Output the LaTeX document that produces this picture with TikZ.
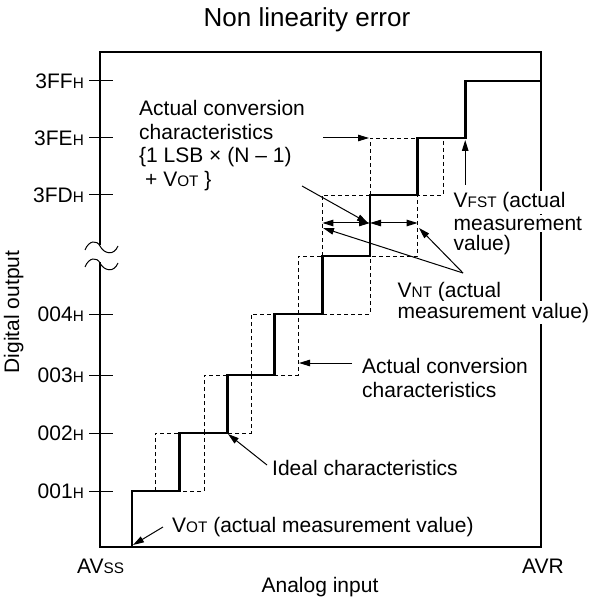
\documentclass[tikz,border=0pt]{standalone}
\usepackage{fontspec}
\setmainfont{Liberation Sans}
\usetikzlibrary{arrows.meta}

\newcommand{\lowcap}[1]{{\fontsize{15.3}{15}\selectfont #1}}

\tikzset{
    lbl/.style={font=\fontsize{21}{22}\selectfont, inner sep=0pt, anchor=base west},
    lblw/.style={lbl, fill=white, inner sep=1.5pt},
    frame/.style={line width=2.3pt},
    ideal/.style={line width=2.7pt},
    actual/.style={line width=0.9pt, dash pattern=on 4pt off 3pt},
    ptr/.style={line width=1pt, -{Triangle[length=11pt,width=6.5pt]}},
    dptr/.style={line width=1pt, {Triangle[length=11pt,width=6.5pt]}-{Triangle[length=11pt,width=6.5pt]}},
}

\begin{document}
\begin{tikzpicture}[x=1pt, y=-1pt]
    \useasboundingbox (0,0) rectangle (588,601);

    % Frame (left side broken)
    \draw[frame] (100,245) -- (100,52) -- (541,52) -- (541,547) -- (100,547) -- (100,262);
    % break marks
    \draw[line width=1pt] (85,250) .. controls (89,240) and (97,240) .. (100,246) .. controls (104,254) and (114,256) .. (118,246);
    \draw[line width=1pt] (85,267) .. controls (89,257) and (97,257) .. (100,263) .. controls (104,271) and (114,273) .. (118,263);

    % Ticks
    \draw[line width=1pt] (89,491) -- (113,491);
    \draw[line width=1pt] (89,433) -- (113,433);
    \draw[line width=1pt] (89,375) -- (113,375);
    \draw[line width=1pt] (89,314) -- (113,314);
    \draw[line width=1pt] (89,195) -- (113,195);
    \draw[line width=1pt] (89,138) -- (113,138);
    \draw[line width=1pt] (89,81) -- (113,81);

    % Tick labels
    \node[lbl, anchor=east] (t1) at (84,491) {001\lowcap{H}};
    \node[lbl, anchor=east] (t2) at (84,433) {002\lowcap{H}};
    \node[lbl, anchor=east] (t3) at (84,375) {003\lowcap{H}};
    \node[lbl, anchor=east] (t4) at (84,314) {004\lowcap{H}};
    \node[lbl, anchor=east] (tD) at (84,195) {3FD\lowcap{H}};
    \node[lbl, anchor=east] (tE) at (84,138) {3FE\lowcap{H}};
    \node[lbl, anchor=east] (tF) at (84,81) {3FF\lowcap{H}};

    % Actual conversion (dashed boxes)
    \draw[actual] (155,491) rectangle (204,433);
    \draw[actual] (204,433) rectangle (251,375);
    \draw[actual] (251,375) rectangle (298,314);
    \draw[actual] (298,314) rectangle (370,256);
    \draw[actual] (322.4,256) rectangle (417.6,195);
    \draw[actual] (370,195) rectangle (443,138);

    % Ideal characteristics
    \draw[ideal] (132,547) |- (179.6,491) |- (227.2,433) |- (274.8,375) |- (322.4,314)
        |- (370,256) |- (417.6,195) |- (465.2,138) |- (541,81);

    % Arrow end points
    \coordinate (aTop0) at (323,138);   \coordinate (aTop1) at (369,138);
    \coordinate (aSl0) at (302,186);    \coordinate (aSl1) at (368,223);
    \coordinate (nL) at (322.4,223);    \coordinate (nM) at (370,223);    \coordinate (nR) at (417.6,223);
    \coordinate (vnt) at (463,273);     \coordinate (vntL) at (323,228); \coordinate (vntR) at (419,228);
    \coordinate (fst0) at (465.2,185);  \coordinate (fst1) at (465.2,140);
    \coordinate (act0) at (352,363);    \coordinate (act1) at (299,363);
    \coordinate (id0) at (267,465);     \coordinate (id1) at (228,434);
    \coordinate (vot0) at (163,527);    \coordinate (vot1) at (133,545);

    % Arrows
    \draw[ptr] (aTop0) -- (aTop1);
    \draw[ptr] (aSl0) -- (aSl1);
    \draw[dptr] (nL) -- (nM);
    \draw[dptr] (nM) -- (nR);
    \draw[ptr] (vnt) -- (vntL);
    \draw[ptr] (vnt) -- (vntR);
    \draw[ptr] (fst0) -- (fst1);
    \draw[ptr] (act0) -- (act1);
    \draw[ptr] (id0) -- (id1);
    \draw[ptr] (vot0) -- (vot1);

    % Labels
    \node[lbl] (ac1) at (139,116) {Actual conversion};
    \node[lbl] (ac2) at (139,140) {characteristics};
    \node[lbl] (ac3) at (139,163) {\{1 LSB × (N – 1)};
    \node[lbl] (ac4) at (145,187) {+ V\lowcap{OT} \}};

    \node[lblw] (fs1) at (452,208) {V\lowcap{FST} (actual};
    \node[lblw] (fs2) at (452,230) {measurement};
    \node[lblw] (fs3) at (452,251) {value)};

    \node[lblw] (nt1) at (396,297) {V\lowcap{NT} (actual};
    \node[lblw] (nt2) at (396,318) {measurement value)};

    \node[lbl] (cv1) at (362,373) {Actual conversion};
    \node[lbl] (cv2) at (362,397) {characteristics};

    \node[lbl] (idl) at (272,475) {Ideal characteristics};
    \node[lbl] (vot) at (172,532) {V\lowcap{OT} (actual measurement value)};

    \node[lbl] (avss) at (77,573) {AV\lowcap{SS}};
    \node[lbl] (avr) at (522,573) {AVR};
    \node[lbl, anchor=base] (xlab) at (320,592) {Analog input};
    \node[lbl, anchor=base, rotate=90] (ylab) at (19,312) {Digital output};
    \node[lbl, anchor=base, font=\fontsize{26}{28}\selectfont] (title) at (307,27) {Non linearity error};
\end{tikzpicture}
\end{document}
